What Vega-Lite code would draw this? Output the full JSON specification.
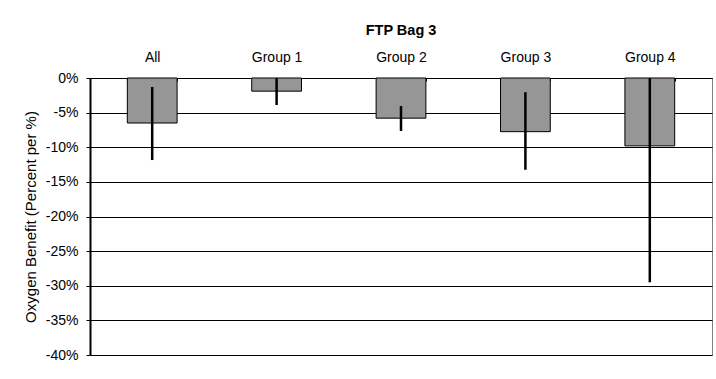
{
  "$schema": "https://vega.github.io/schema/vega-lite/v6.json",
  "width": 622,
  "height": 277,
  "autosize": "none",
  "padding": {"left": 90, "top": 78, "right": 4, "bottom": 24},
  "background": "white",
  "title": {"text": "FTP Bag 3", "font": "Liberation Sans", "fontSize": 14.5, "fontWeight": "bold", "color": "black", "anchor": "middle", "frame": "group", "offset": 12},
  "data": {"values": [
    {"group": "All", "value": -6.5, "lo": -11.85, "hi": -1.3},
    {"group": "Group 1", "value": -1.9, "lo": -3.9, "hi": 0},
    {"group": "Group 2", "value": -5.8, "lo": -7.65, "hi": -4.05},
    {"group": "Group 3", "value": -7.75, "lo": -13.25, "hi": -2.05},
    {"group": "Group 4", "value": -9.8, "lo": -29.5, "hi": 0}
  ]},
  "config": {
    "view": {"stroke": "#808080", "strokeWidth": 1},
    "font": "Liberation Sans",
    "axisY": {"titleFont": "Liberation Sans", "titleFontSize": 15, "titleFontWeight": "normal", "titleColor": "black", "titlePadding": 7,
      "labelOverlap": false, "labelFont": "Liberation Sans", "labelFontSize": 14, "labelColor": "black",
      "domainColor": "black", "domainWidth": 2, "tickColor": "black", "tickSize": 4, "labelPadding": 8,
      "grid": true, "gridColor": "black", "gridWidth": 1}
  },
  "encoding": {
    "x": {
      "field": "group", "type": "nominal", "sort": null,
      "scale": {"paddingInner": 0.6, "paddingOuter": 0.3},
      "axis": {"orient": "top", "title": null, "labelAngle": 0, "labelFont": "Liberation Sans", "labelFontSize": 14, "labelColor": "black",
        "domainColor": "black", "domainWidth": 1, "tickBand": "extent", "tickColor": "black", "tickSize": -3, "labelPadding": 17}
    }
  },
  "layer": [
    {
      "mark": {"type": "bar", "fill": "#969696", "stroke": "black", "strokeWidth": 1},
      "encoding": {
        "y": {"field": "value", "type": "quantitative",
          "scale": {"domain": [-40, 0], "nice": false},
          "axis": {"title": "Oxygen Benefit (Percent per %)", "values": [0, -5, -10, -15, -20, -25, -30, -35, -40], "labelExpr": "datum.value + '%'"}
        }
      }
    },
    {
      "mark": {"type": "rule", "color": "black", "strokeWidth": 2.5},
      "encoding": {
        "y": {"field": "lo", "type": "quantitative",
          "axis": {"title": "Oxygen Benefit (Percent per %)", "values": [0, -5, -10, -15, -20, -25, -30, -35, -40], "labelExpr": "datum.value + '%'"}},
        "y2": {"field": "hi"}
      }
    }
  ]
}
